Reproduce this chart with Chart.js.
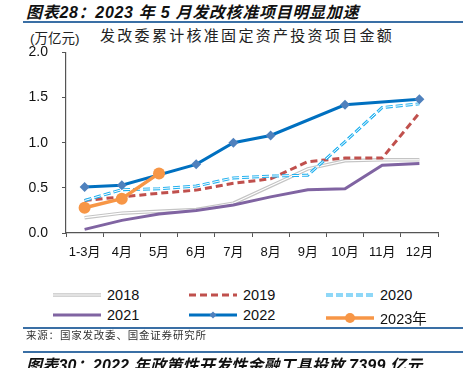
<!DOCTYPE html>
<html>
<head>
<meta charset="utf-8">
<script src="https://cdn.jsdelivr.net/npm/chart.js@4.4.1/dist/chart.umd.min.js"></script>
<style>
  body { margin: 0; background: #fff; font-family: "Liberation Sans", "Noto Sans CJK SC", sans-serif; }
  #wrap { position: relative; width: 463px; height: 368px; overflow: hidden; background: #fff; }
  .title { position: absolute; left: 26px; font-weight: bold; font-style: italic; font-size: 16px; letter-spacing: 0.7px; color: #111; white-space: nowrap; }
  .rule { position: absolute; left: 23px; right: 0; height: 2px; background: #3a6fa5; }
  #unit { position: absolute; left: 30px; top: 27px; font-size: 13.5px; color: #222; }
  #sub { position: absolute; left: 100px; top: 24px; font-size: 15px; letter-spacing: 2.3px; color: #222; font-family: "Noto Sans CJK SC", sans-serif; }
  #chartBox { position: absolute; left: 0; top: 30px; width: 463px; height: 235px; }
  #legend { position: absolute; left: 0; top: 287px; width: 463px; }
  .item { position: absolute; display: flex; align-items: center; font-size: 14.5px; color: #111; }
  .item canvas { margin-right: 5px; }
  #source { position: absolute; left: 26px; top: 327px; font-size: 10.5px; color: #333; font-family: "Noto Sans CJK SC", sans-serif; letter-spacing: 0.8px; }
</style>
</head>
<body>
<div id="wrap">
  <div class="title" style="top:-1px">图表28：2023 年 5 月发改核准项目明显加速</div>
  <div class="rule" style="top:21px"></div>
  <div id="unit">(万亿元)</div>
  <div id="sub">发改委累计核准固定资产投资项目金额</div>
  <div id="chartBox"><canvas id="chart"></canvas></div>
  <div id="legend"></div>
  <div class="rule" style="top:327px;height:1.5px"></div>
  <div id="source">来源：国家发改委、国金证券研究所</div>
  <div class="rule" style="top:351px;height:1.5px"></div>
  <div class="title" style="top:352px;letter-spacing:0.2px">图表30：2022 年政策性开发性金融工具投放 7399 亿元</div>
</div>
<script>
// 月份
const months = ['1-3月', '4月', '5月', '6月', '7月', '8月', '9月', '10月', '11月', '12月'];
const yTicks = [0, 0.5, 1.0, 1.5, 2.0];

// 各年累计核准金额（万亿元）
const y2018 = [0.17, 0.22, 0.24, 0.26, 0.33, 0.52, 0.71, 0.80, 0.81, 0.81];
const y2019 = [0.36, 0.40, 0.44, 0.475, 0.55, 0.60, 0.79, 0.83, 0.83, 1.33];
const y2020 = [0.36, 0.48, 0.49, 0.52, 0.61, 0.63, 0.64, 1.01, 1.39, 1.43];
const y2021 = [0.04, 0.14, 0.21, 0.25, 0.31, 0.40, 0.48, 0.49, 0.75, 0.77];
const y2022 = [0.51, 0.53, null, 0.76, 1.00, 1.08, null, 1.42, null, 1.48];
const y2023 = [0.28, 0.38, 0.66];

const series = [
  { label: '2018', data: y2018, color: '#c4c4c4', width: 3.5, inner: '#ffffff', innerWidth: 1.2, dash: [] },
  { label: '2019', data: y2019, color: '#c0504d', width: 3, dash: [7, 4] },
  { label: '2020', data: y2020, color: '#1fb0ef', width: 3, inner: '#ffffff', innerWidth: 1, dash: [7, 3] },
  { label: '2021', data: y2021, color: '#8064a2', width: 3, dash: [] },
  { label: '2022', data: y2022, color: '#0070c0', width: 3, dash: [], point: 'rectRot', pointColor: '#4f81bd', radius: 5 },
  { label: '2023年', data: y2023, color: '#f79646', width: 3.5, dash: [], point: 'circle', pointColor: '#f79646', radius: 6 }
];

const datasets = [];
const orders = { '2018': 9, '2019': 7, '2020': 5, '2021': 4, '2022': 2, '2023年': 0 };
series.forEach(s => {
  datasets.push({
    label: s.label,
    data: s.data,
    borderColor: s.color,
    backgroundColor: s.pointColor || s.color,
    borderWidth: s.width,
    borderDash: s.dash,
    pointStyle: s.point || 'circle',
    pointRadius: s.point ? s.radius : 0,
    pointBorderWidth: 0,
    pointBackgroundColor: s.pointColor,
    tension: 0,
    spanGaps: true,
    order: orders[s.label]
  });
  if (s.inner) {
    // 空心线的内层白线
    datasets.push({
      label: s.label + '_inner',
      data: s.data,
      borderColor: s.inner,
      borderWidth: s.innerWidth,
      borderDash: s.dash,
      pointRadius: 0,
      tension: 0,
      spanGaps: true,
      order: orders[s.label] - 1
    });
  }
});

const axisColor = '#555';
new Chart(document.getElementById('chart'), {
  type: 'line',
  data: { labels: months, datasets: datasets },
  options: {
    responsive: true,
    maintainAspectRatio: false,
    animation: false,
    layout: { padding: { top: 2, right: 25, left: 0, bottom: 0 } },
    plugins: { legend: { display: false }, tooltip: { enabled: false } },
    scales: {
      x: {
        offset: true,
        grid: { offset: true, drawOnChartArea: false, drawTicks: true, tickLength: 4, color: axisColor },
        border: { color: axisColor, width: 1.2 },
        ticks: { color: '#111', font: { size: 13, family: '"Liberation Sans", "Noto Sans CJK SC"' }, maxRotation: 0, autoSkip: false, padding: 8 },
        afterFit: scale => { scale.height = 32; }
      },
      y: {
        min: 0, max: 2,
        afterBuildTicks: scale => { scale.ticks = yTicks.map(v => ({ value: v })); },
        grid: { drawOnChartArea: false, drawTicks: true, tickLength: 4, color: axisColor },
        border: { color: axisColor, width: 1.2 },
        ticks: { color: '#111', font: { size: 14, family: '"Liberation Sans"' }, padding: 14, callback: v => Number(v).toFixed(1) },
        afterFit: scale => { scale.width = 66; }
      }
    }
  }
});

// 图例
const legendPos = [[52, 0], [188, 0], [325, 0], [52, 20], [188, 20], [325, 20]];
const legendBox = document.getElementById('legend');
series.forEach((s, i) => {
  const item = document.createElement('div');
  item.className = 'item';
  item.style.left = legendPos[i][0] + 'px';
  item.style.top = legendPos[i][1] + 'px';
  const c = document.createElement('canvas');
  c.width = 50; c.height = 14;
  const g = c.getContext('2d');
  g.lineWidth = s.width; g.strokeStyle = s.color; g.setLineDash(s.dash);
  g.beginPath(); g.moveTo(1, 7); g.lineTo(49, 7); g.stroke();
  if (s.inner) {
    g.lineWidth = s.innerWidth; g.strokeStyle = s.inner;
    g.beginPath(); g.moveTo(1, 7); g.lineTo(49, 7); g.stroke();
  }
  g.setLineDash([]);
  if (s.point === 'rectRot') {
    g.fillStyle = s.pointColor;
    g.beginPath(); g.moveTo(25, 3.5); g.lineTo(28.5, 7); g.lineTo(25, 10.5); g.lineTo(21.5, 7); g.closePath(); g.fill();
  } else if (s.point === 'circle') {
    g.fillStyle = s.pointColor;
    g.beginPath(); g.arc(25, 7, 5, 0, Math.PI * 2); g.fill();
  }
  item.appendChild(c);
  const t = document.createElement('span');
  t.textContent = s.label;
  item.appendChild(t);
  legendBox.appendChild(item);
});
</script>
</body>
</html>
